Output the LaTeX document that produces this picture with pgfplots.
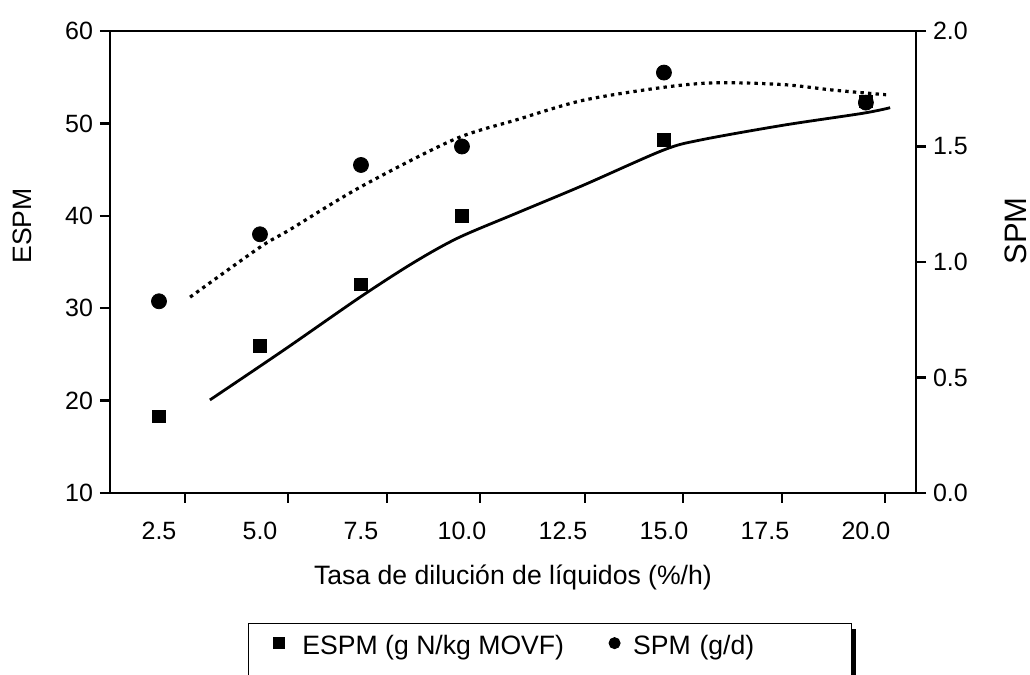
\documentclass[border=0pt]{standalone}
\usepackage{pgfplots}
\pgfplotsset{compat=1.18}
\usepackage{pgfplotstable}
\usepackage{fontspec}
\setmainfont{Liberation Sans}
\usetikzlibrary{shadows}

% ESPM (g N/kg MOVF): observed values
\pgfplotstableread{
x y
2.5 18.3
5.0 25.9
7.5 32.6
10.0 40.0
15.0 48.2
20.0 52.4
}\espmobs

% ESPM: fitted curve
\pgfplotstableread{
x y
3.76 20.07
5.60 25.5
7.48 31.2
8.79 34.9
9.90 37.6
11.36 40.3
13.00 43.3
14.98 47.1
15.90 48.2
17.95 49.8
19.93 51.1
20.60 51.7
}\espmfit

% SPM (g/d): observed values
\pgfplotstableread{
x y
2.5 0.83
5.0 1.12
7.5 1.42
10.0 1.50
15.0 1.82
20.0 1.69
}\spmobs

% SPM: fitted curve
\pgfplotstableread{
x y
3.27 0.848
5.00 1.064
5.74 1.140
7.48 1.324
9.80 1.530
11.36 1.616
13.00 1.700
14.98 1.756
16.30 1.776
17.95 1.768
19.20 1.744
20.50 1.724
}\spmfit

\newcommand{\labelfont}{\fontsize{13.3}{16}\selectfont}

\pgfplotsset{
  common/.style={
    scale only axis, width=403pt, height=231pt,
    xmin=1.287, xmax=21.24,
    axis line style={line width=1.3pt},
    tick style={line width=1.2pt, black},
    tick align=outside, major tick length=5pt,
    tick label style={font=\fontsize{12.5}{15}\selectfont},
    /pgf/number format/assume math mode=true,
  },
  % legend keys: a single mark, no line
  squarekey/.style={legend image code/.code={%
    \path (0pt,0pt) (18.5pt,0pt);
    \draw[##1] plot coordinates {(9pt,5pt)};}},
  circlekey/.style={legend image code/.code={%
    \path (0pt,0pt) (16pt,0pt);
    \draw[##1] plot coordinates {(9pt,5pt)};}},
}

\begin{document}
\begin{tikzpicture}
\begin{axis}[
  common,
  ymin=10, ymax=60,
  xtick pos=bottom, ytick pos=left,
  xtick={3.14,5.69,8.14,10.45,13.04,15.47,17.92,20.47},
  xticklabels={},
  extra x ticks={2.5,5,7.5,10,12.5,15,17.5,20},
  extra x tick labels={2.5,5.0,7.5,10.0,12.5,15.0,17.5,20.0},
  extra x tick style={tick style={draw=none}, xticklabel style={yshift=-6pt}},
  ytick={10,20,30,40,50,60},
  xlabel={Tasa de dilución de líquidos (\%/h)},
  ylabel={ESPM},
  every axis x label/.style={at={(rel axis cs:0.5,0)}, anchor=center, yshift=-42pt, font=\labelfont},
  every axis y label/.style={at={(rel axis cs:-0.1092,0.578)}, anchor=center, rotate=90, font=\labelfont},
]
\addplot[black, line width=1.4pt, smooth, tension=0.5] table {\espmfit};
\addplot[only marks, mark=square*, mark size=3.1pt, black] table {\espmobs};
\end{axis}

\begin{axis}[
  common,
  ymin=0, ymax=2,
  axis x line=none, axis y line*=right,
  ytick={0,0.5,1,1.5,2},
  yticklabel style={/pgf/number format/.cd, fixed, fixed zerofill, precision=1},
  ylabel={SPM},
  every axis y label/.style={at={(rel axis cs:1.1235,0.567)}, anchor=center, rotate=90, font=\fontsize{15.5}{18}\selectfont},
  legend columns=2,
  legend cell align=left,
  legend style={
    at={(0.1712,-0.2814)}, anchor=north west,
    draw=black, line width=0.5pt, fill=white,
    font=\labelfont,
    drop shadow={shadow xshift=2.5pt, shadow yshift=-2.5pt, opacity=1, fill=black},
    inner xsep=6pt, inner ysep=4pt,
    /tikz/every even column/.append style={column sep=14pt},
  },
]
\addplot[black, line width=1.6pt, line cap=butt, dash pattern=on 1.7pt off 2.1pt, smooth, tension=0.5, forget plot] table {\spmfit};
\addplot[only marks, mark=*, mark size=3.75pt, black, forget plot] table {\spmobs};
\addlegendimage{black, mark=square*, mark size=2.75pt, squarekey}
\addlegendentry[text depth=8pt]{ESPM (g N/kg MOVF)}
\addlegendimage{black, mark=*, mark size=2.75pt, circlekey}
\addlegendentry[text width=101pt, text depth=8pt]{SPM (g/d)}
\end{axis}
\pgfresetboundingbox
\path[use as bounding box] (-55pt,-91pt) rectangle (460pt,246.5pt);
\end{tikzpicture}
\end{document}
